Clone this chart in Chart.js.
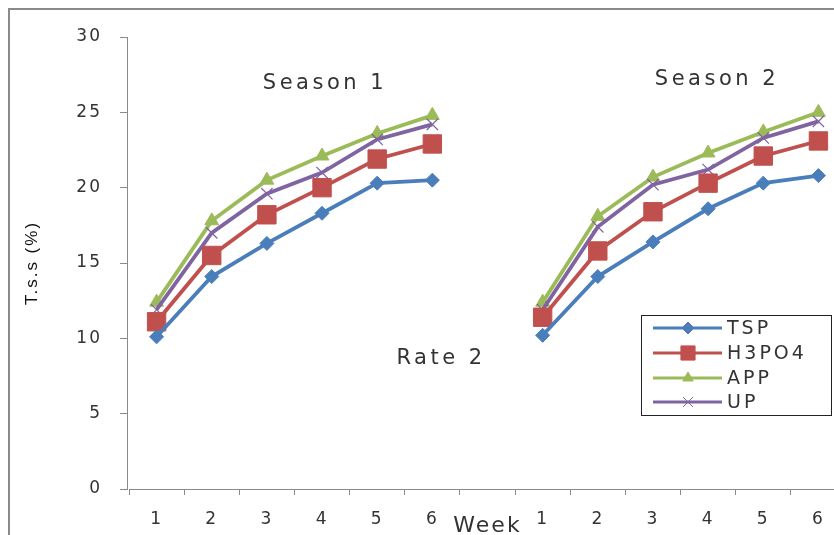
<!DOCTYPE html>
<html>
<head>
<meta charset="utf-8">
<script src="https://cdn.jsdelivr.net/npm/chart.js@4/dist/chart.umd.min.js"></script>
<style>
  html, body { margin: 0; padding: 0; background: #fff; overflow: hidden; }
  #wrap { position: relative; width: 834px; height: 535px; }
</style>
</head>
<body>
<div id="wrap"><canvas id="tss" width="834" height="535"></canvas></div>
<script>
(function () {
  // week labels: season 1, gap, season 2
  const weeks = ["1", "2", "3", "4", "5", "6", "", "1", "2", "3", "4", "5", "6"];
  const yTicks = [0, 5, 10, 15, 20, 25, 30];

  const tspS1 = [10.1, 14.1, 16.3, 18.3, 20.3, 20.5];
  const tspS2 = [10.2, 14.1, 16.4, 18.6, 20.3, 20.8];
  const h3po4S1 = [11.1, 15.5, 18.2, 20.0, 21.9, 22.9];
  const h3po4S2 = [11.4, 15.8, 18.4, 20.3, 22.1, 23.1];
  const appS1 = [12.4, 17.8, 20.5, 22.1, 23.6, 24.8];
  const appS2 = [12.4, 18.1, 20.7, 22.3, 23.7, 25.0];
  const upS1 = [11.9, 17.0, 19.6, 21.0, 23.2, 24.2];
  const upS2 = [11.9, 17.4, 20.2, 21.2, 23.3, 24.4];

  const both = (a, b) => a.concat([null], b);

  const FONT = "DejaVu Sans";
  const TXT = "#333";

  function series(label, data, color, style, radius, bw) {
    return {
      label: label,
      data: data,
      borderColor: color,
      backgroundColor: color,
      borderWidth: 3.8,
      pointStyle: style,
      pointRadius: radius,
      pointHoverRadius: radius,
      pointBorderColor: color,
      pointBackgroundColor: color,
      pointBorderWidth: bw,
      spanGaps: false,
      tension: 0,
      clip: false,
    };
  }

  const datasets = [
    series("TSP", both(tspS1, tspS2), "#4a7ebb", "rectRot", 7, 1),
    series("H3PO4", both(h3po4S1, h3po4S2), "#c0504d", "rect", 13, 1),
    series("APP", both(appS1, appS2), "#9bbb59", "triangle", 8, 1),
    series("UP", both(upS1, upS2), "#8064a2", "crossRot", 8, 1.2),
  ];
  datasets[0].order = 0;
  datasets[1].order = 1;
  datasets[3].order = 2;
  datasets[2].order = 3;

  const notes = [
    { text: "Season 1", x: 325, y: 84 },
    { text: "Season 2", x: 717, y: 80 },
    { text: "Rate 2", x: 441, y: 359 },
  ];

  const decor = {
    id: "decor",
    beforeUpdate(chart) { chart.ctx.letterSpacing = "2px"; },
    afterLayout(chart) {
      // the original plot runs a little past the right edge of the picture
      const s = chart.scales.x;
      s.left = 129;
      s.right = 846;
      s.width = s.right - s.left;
      s.configure();
    },
    beforeDraw(chart) {
      const ctx = chart.ctx;
      ctx.save();
      ctx.fillStyle = "#fff";
      ctx.fillRect(0, 0, chart.width, chart.height);
      ctx.strokeStyle = "#8a8a8a";
      ctx.lineWidth = 2;
      ctx.beginPath();
      ctx.moveTo(9, chart.height);
      ctx.lineTo(9, 9);
      ctx.lineTo(chart.width, 9);
      ctx.stroke();
      ctx.restore();
      ctx.letterSpacing = "2px";
    },
    afterDraw(chart) {
      const ctx = chart.ctx;
      ctx.save();
      ctx.letterSpacing = "3.5px";
      ctx.fillStyle = TXT;
      ctx.font = "21px '" + FONT + "'";
      ctx.textAlign = "center";
      ctx.textBaseline = "middle";
      notes.forEach((n) => ctx.fillText(n.text, n.x, n.y));

      // legend box
      const lx = 641, ly = 315, lw = 190, lh = 100;
      ctx.fillStyle = "#fff";
      ctx.fillRect(lx, ly, lw, lh);
      ctx.strokeStyle = "#222";
      ctx.lineWidth = 1;
      ctx.strokeRect(lx + 0.5, ly + 0.5, lw, lh);
      const rowsY = [328, 353, 378, 402];
      const sizes = [6, 10, 6, 7];
      ctx.letterSpacing = "3px";
      ctx.font = "19px '" + FONT + "'";
      ctx.textAlign = "left";
      datasets.forEach((ds, k) => {
        const y = rowsY[k];
        ctx.strokeStyle = ds.borderColor;
        ctx.lineWidth = 3;
        ctx.beginPath();
        ctx.moveTo(653, y);
        ctx.lineTo(722, y);
        ctx.stroke();
        ctx.fillStyle = ds.borderColor;
        ctx.lineWidth = 1;
        Chart.helpers.drawPoint(ctx, {
          pointStyle: ds.pointStyle,
          radius: sizes[k],
          borderWidth: 1,
          rotation: 0,
        }, 688, y);
        ctx.fillStyle = TXT;
        ctx.fillText(ds.label, 727, y + 1);
      });
      ctx.restore();
    },
  };

  new Chart(document.getElementById("tss"), {
    type: "line",
    data: { labels: weeks, datasets: datasets },
    plugins: [decor],
    options: {
      responsive: false,
      animation: false,
      devicePixelRatio: 1,
      layout: { padding: { top: 37, right: 0, bottom: 0, left: 0 } },
      plugins: { legend: { display: false }, tooltip: { enabled: false } },
      scales: {
        x: {
          type: "category",
          offset: true,
          afterFit(s) { s.height = 46; },
          grid: {
            offset: true,
            drawOnChartArea: false,
            drawTicks: true,
            tickLength: 6,
            color: "#8a8a8a",
          },
          border: { color: "#8a8a8a", width: 1 },
          ticks: {
            color: TXT,
            font: { family: FONT, size: 17 },
            padding: 14,
            maxRotation: 0,
            autoSkip: false,
          },
          title: {
            display: true,
            text: "Week",
            color: TXT,
            font: { family: FONT, size: 22 },
            padding: { top: 0, bottom: -4 },
          },
        },
        y: {
          min: 0,
          max: 30,
          afterFit(s) { s.width = 127; },
          afterBuildTicks(s) { s.ticks = yTicks.map((v) => ({ value: v })); },
          grid: {
            drawOnChartArea: false,
            drawTicks: true,
            tickLength: 7,
            color: "#8a8a8a",
          },
          border: { color: "#8a8a8a", width: 1 },
          ticks: {
            color: TXT,
            font: { family: FONT, size: 17 },
            padding: 18,
          },
          title: {
            display: true,
            text: "T.s.s (%)",
            color: "#111",
            font: { family: "Liberation Sans", size: 17 },
            padding: { top: 22, bottom: 0 },
          },
        },
      },
    },
  });
})();
</script>
</body>
</html>
